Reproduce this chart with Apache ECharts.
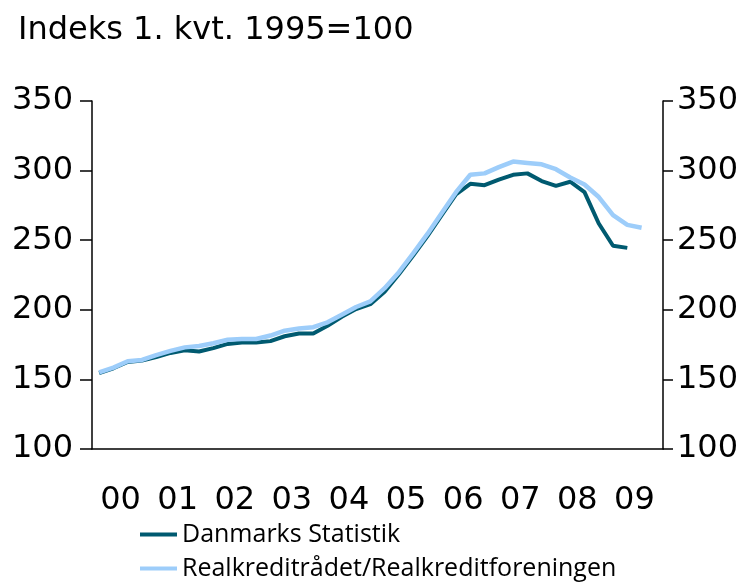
<!DOCTYPE html>
<html>
<head>
<meta charset="utf-8">
<script src="https://cdn.jsdelivr.net/npm/echarts@6/dist/echarts.min.js"></script>
<style>
  html, body { margin: 0; padding: 0; background: #fff; }
  #main { width: 749px; height: 583px; }
</style>
</head>
<body>
<div id="main"></div>
<script>
// quarterly index, 2000Q1 .. 2009Q3
const years = ["00", "01", "02", "03", "04", "05", "06", "07", "08", "09"];
const seriesNames = ["Danmarks Statistik", "Realkreditrådet/Realkreditforeningen"];
const danmarksStatistik = [
  154.5, 158, 162.5, 163.5,
  166, 169, 171, 170,
  172.5, 175.5, 176.5, 176.5,
  177.5, 181, 183, 183,
  188.5, 195, 200.5, 204,
  213, 225.5, 239, 253,
  268, 283, 290.5, 289.5,
  293.5, 297, 298, 292.5,
  289, 292, 284.5, 262,
  246, 244.5
];
const realkredit = [
  155, 158.5, 163, 164,
  167.5, 170.5, 173, 174,
  176, 178.5, 179, 179,
  181.5, 185, 186.5, 187.5,
  191, 196.5, 202, 206,
  215.5, 227, 240.5, 254.5,
  269.5, 284.5, 297, 298,
  302.5, 306.5, 305.5, 304.5,
  301, 295, 290, 281,
  268, 261, 259
];

const toPoints = arr => arr.map((v, i) => [i + 0.5, v]);

const chart = echarts.init(document.getElementById("main"));
const tickFont = { fontFamily: "DejaVu Sans", fontSize: 32, color: "#000" };
const legendBase = {
  left: 140,
  padding: 0,
  itemWidth: 37,
  itemHeight: 4,
  icon: "rect",
  textStyle: { fontFamily: "Open Sans", fontSize: 25, color: "#000" }
};
chart.setOption({
  animation: false,
  title: {
    text: "Indeks 1. kvt. 1995=100",
    left: 13,
    top: 10,
    textStyle: { fontFamily: "DejaVu Sans", fontSize: 32, fontWeight: "normal", color: "#000" }
  },
  legend: [
    Object.assign({ top: 522, data: [seriesNames[0]] }, legendBase),
    Object.assign({ top: 556, data: [seriesNames[1]] }, legendBase)
  ],
  grid: { left: 92, right: 86, top: 101, bottom: 134, containLabel: false },
  xAxis: [
    {
      type: "category",
      data: years,
      boundaryGap: true,
      axisLine: { lineStyle: { color: "#000", width: 1.5 } },
      axisTick: { length: 7, lineStyle: { color: "#000", width: 1.5 } },
      axisLabel: Object.assign({ margin: 36 }, tickFont),
      splitLine: { show: false }
    },
    {
      type: "value",
      min: 0,
      max: 40,
      show: false
    }
  ],
  yAxis: [
    {
      type: "value",
      min: 100,
      max: 350,
      interval: 50,
      position: "left",
      axisLine: { show: true, lineStyle: { color: "#000", width: 1.5 } },
      axisTick: { show: true, length: 12, lineStyle: { color: "#000", width: 1.5 } },
      axisLabel: Object.assign({ margin: 19 }, tickFont),
      splitLine: { show: false }
    },
    {
      type: "value",
      min: 100,
      max: 350,
      interval: 50,
      position: "right",
      axisLine: { show: true, lineStyle: { color: "#000", width: 1.5 } },
      axisTick: { show: true, length: 10, lineStyle: { color: "#000", width: 1.5 } },
      axisLabel: Object.assign({ margin: 14 }, tickFont),
      splitLine: { show: false }
    }
  ],
  series: [
    {
      name: seriesNames[1],
      type: "line",
      xAxisIndex: 1,
      yAxisIndex: 0,
      data: toPoints(realkredit),
      showSymbol: false,
      color: "#9dcdfa",
      lineStyle: { width: 4.5, color: "#9dcdfa" },
      z: 2
    },
    {
      name: seriesNames[0],
      type: "line",
      xAxisIndex: 1,
      yAxisIndex: 0,
      data: toPoints(danmarksStatistik),
      showSymbol: false,
      color: "#005a70",
      lineStyle: { width: 4, color: "#005a70" },
      z: 1
    }
  ]
});
</script>
</body>
</html>
